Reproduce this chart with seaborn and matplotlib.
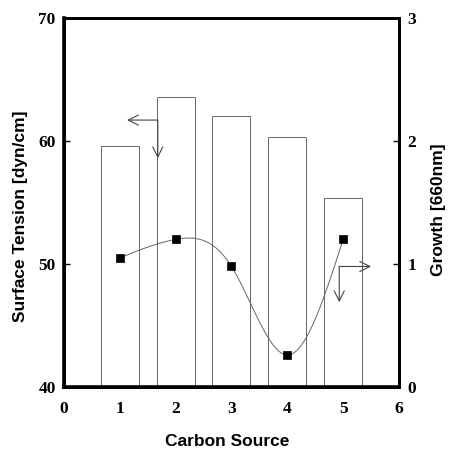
import numpy as np
import pandas as pd
import matplotlib
matplotlib.use("Agg")
import matplotlib.pyplot as plt
import seaborn as sns

# Data
carbon_source = [1, 2, 3, 4, 5]
surface_tension = [59.6, 63.6, 62.0, 60.3, 55.4]   # dyn/cm, left axis (bars)
growth = [1.05, 1.20, 0.98, 0.26, 1.20]            # OD 660nm, right axis (points)
x_ticks = [0, 1, 2, 3, 4, 5, 6]
left_ticks = [40, 50, 60, 70]
right_ticks = [0, 1, 2, 3]

sns.set_style("ticks")
plt.rcParams['font.family'] = ['Liberation Sans', 'DejaVu Sans']
plt.rcParams['text.color'] = 'black'
plt.rcParams['axes.labelcolor'] = 'black'
plt.rcParams['xtick.color'] = 'black'
plt.rcParams['ytick.color'] = 'black'

fig = plt.figure(figsize=(4.49, 4.49), dpi=100)
ax = fig.add_axes([0.1425, 0.138, 0.7461, 0.822])

df = pd.DataFrame({"x": carbon_source, "st": surface_tension})
sns.barplot(data=df, x="x", y="st", native_scale=True, width=0.68,
            color="white", edgecolor="#666666", linewidth=0.7, ax=ax,
            errorbar=None)

ax.set_xlim(0, 6)
ax.set_ylim(40, 70)
ax.set_xticks(x_ticks)
ax.set_yticks(left_ticks)

ax2 = ax.twinx()
ax2.set_ylim(0, 3)
ax2.set_yticks(right_ticks)

# natural cubic spline through the growth points (smooth curve as in reference)
xs = np.array(carbon_source, dtype=float)
ys = np.array(growth, dtype=float)
n = len(xs)
h = np.diff(xs)
A = np.zeros((n, n)); b = np.zeros(n)
A[0, 0] = 1; A[-1, -1] = 1
for i in range(1, n - 1):
    A[i, i - 1] = h[i - 1]; A[i, i] = 2 * (h[i - 1] + h[i]); A[i, i + 1] = h[i]
    b[i] = 6 * ((ys[i + 1] - ys[i]) / h[i] - (ys[i] - ys[i - 1]) / h[i - 1])
M = np.linalg.solve(A, b)
xf = np.linspace(xs[0], xs[-1], 300)
yf = np.empty_like(xf)
for k, xv in enumerate(xf):
    i = min(np.searchsorted(xs, xv, side='right') - 1, n - 2)
    t0 = xs[i + 1] - xv; t1 = xv - xs[i]; hi = h[i]
    yf[k] = (M[i] * t0**3 + M[i + 1] * t1**3) / (6 * hi) \
        + (ys[i] / hi - M[i] * hi / 6) * t0 + (ys[i + 1] / hi - M[i + 1] * hi / 6) * t1

sns.lineplot(x=xf, y=yf, ax=ax2, color="#666666", linewidth=0.7, sort=False)
sns.scatterplot(x=carbon_source, y=growth, ax=ax2, marker="s", s=32,
                color="black", edgecolor="black", linewidth=0.5, zorder=5)

# arrows indicating axes
arrow_kw = dict(arrowstyle="->", color="#444444", lw=0.8,
                mutation_scale=18, shrinkA=0, shrinkB=0)
ax.annotate("", xy=(1.13, 61.7), xytext=(1.67, 61.7), arrowprops=arrow_kw)
ax.annotate("", xy=(1.68, 58.6), xytext=(1.68, 61.7), arrowprops=arrow_kw)
ax2.annotate("", xy=(5.5, 0.98), xytext=(4.93, 0.98), arrowprops=arrow_kw)
ax2.annotate("", xy=(4.93, 0.69), xytext=(4.93, 0.98), arrowprops=arrow_kw)

tick_font = dict(family=['Liberation Serif'], weight='bold', size=12.5)
for a in (ax, ax2):
    for sp in a.spines.values():
        sp.set_linewidth(2.0)
        sp.set_color("black")
    a.tick_params(direction='in', length=4, width=1)
ax.spines['left'].set_linewidth(2.6)
ax.spines['bottom'].set_linewidth(2.6)
ax.tick_params(axis='x', pad=10, top=False)
ax.tick_params(axis='y', pad=6)
ax2.tick_params(axis='y', pad=6)
ax.set_xticklabels([str(v) for v in x_ticks], fontdict=tick_font)
ax.set_yticklabels([str(v) for v in left_ticks], fontdict=tick_font)
ax2.set_yticklabels([str(v) for v in right_ticks], fontdict=tick_font)

label_font = dict(family=['Liberation Sans'], weight='bold', size=12.5)
ax.set_xlabel("Carbon Source", fontdict=label_font)
ax.set_ylabel("Surface Tension [dyn/cm]", fontdict=label_font)
ax2.set_ylabel("Growth [660nm]", fontdict=label_font)
ax.xaxis.set_label_coords(0.488, -0.126)
ax.yaxis.set_label_coords(-0.107, 0.463)
ax2.yaxis.set_label_coords(1.097, 0.48)

fig.savefig("out.png", dpi=100)
